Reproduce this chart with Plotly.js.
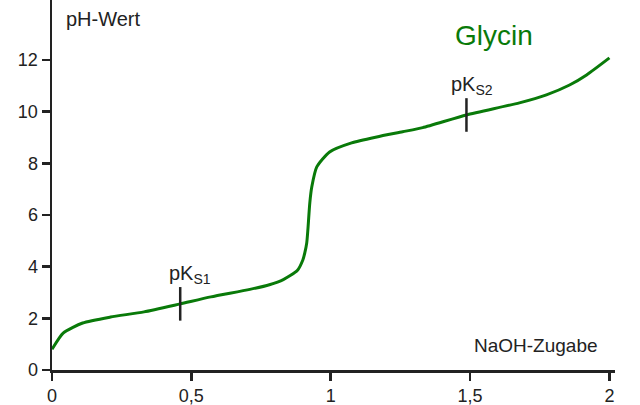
<!DOCTYPE html>
<html>
<head>
<meta charset="utf-8">
<script src="https://cdn.plot.ly/plotly-3.0.1.min.js"></script>
<style>
  html, body { margin: 0; padding: 0; background: #fff; }
  #chart { width: 640px; height: 405px; }
</style>
</head>
<body>
<div id="chart"></div>
<script>
// Titration curve of glycine
const equivalents = [0, 0.04, 0.11, 0.21, 0.33, 0.46, 0.57, 0.71, 0.78, 0.83, 0.88, 0.9, 0.907,
                     0.914, 0.918, 0.925, 0.932, 0.95, 0.996, 1.075, 1.165, 1.258, 1.33, 1.487,
                     1.677, 1.774, 1.857, 1.918, 2.0]
const phValues = [0.8, 1.43, 1.82, 2.05, 2.25, 2.56, 2.83, 3.12, 3.3, 3.5, 3.85, 4.26, 4.53,
                  4.92, 5.42, 6.47, 7.08, 7.86, 8.44, 8.79, 9.02, 9.22, 9.38, 9.87,
                  10.34, 10.65, 11.03, 11.42, 12.08]

const pkLabels = ['pK<sub>S1</sub>', 'pK<sub>S2</sub>']
const pkX = [0.46, 1.487]
const pkY = [2.56, 9.87]

const yTicks = [0, 2, 4, 6, 8, 10, 12]
const xTicks = [0, 0.5, 1, 1.5, 2]

const ink = '#222'
const font = 'Liberation Sans, Arial, sans-serif'

let data = [
    {
        x: equivalents,
        y: phValues,
        type: 'scatter',
        mode: 'lines',
        name: 'Glycin',
        line: { color: '#097a09', width: 3, shape: 'spline', smoothing: 0.6 },
        hoverinfo: 'skip'
    },
    {
        x: pkX,
        y: pkY,
        type: 'scatter',
        mode: 'markers',
        marker: { symbol: 'line-ns', size: 24, line: { color: ink, width: 2.5 } },
        hoverinfo: 'skip'
    }
]

let annotations = pkLabels.map((t, i) => ({
    x: pkX[i], y: pkY[i], xref: 'x', yref: 'y',
    text: t, showarrow: false,
    xanchor: 'left', yanchor: 'bottom',
    xshift: i === 0 ? -13 : -17, yshift: 15,
    font: { family: font, size: 20, color: ink }
}))

annotations.push(
    {
        xref: 'paper', yref: 'paper', x: 0.712, y: 0.905,
        xanchor: 'left', yanchor: 'middle',
        text: 'Glycin', showarrow: false,
        font: { family: font, size: 28, color: '#097a09' }
    },
    {
        xref: 'paper', yref: 'paper', x: 0.021, y: 0.948,
        xanchor: 'left', yanchor: 'middle',
        text: 'pH-Wert', showarrow: false,
        font: { family: font, size: 20, color: ink }
    },
    {
        xref: 'paper', yref: 'paper', x: 0.973, y: 0.065,
        xanchor: 'right', yanchor: 'middle',
        text: 'NaOH-Zugabe', showarrow: false,
        font: { family: font, size: 19, color: ink }
    }
)

let layout = {
    width: 640,
    height: 405,
    margin: { l: 52, r: 25, t: 0, b: 35 },
    paper_bgcolor: '#fff',
    plot_bgcolor: '#fff',
    showlegend: false,
    separators: ',.',
    font: { family: font, size: 18, color: ink },
    xaxis: {
        range: [0, 2.02],
        tickvals: xTicks,
        ticks: 'outside', ticklen: 8, tickwidth: 2.5, tickcolor: ink,
        showline: true, linecolor: ink, linewidth: 2.5,
        showgrid: false, zeroline: false,
        tickfont: { family: font, size: 18, color: ink }
    },
    yaxis: {
        range: [0, 14.32],
        tickvals: yTicks,
        ticks: 'outside', ticklen: 8, tickwidth: 2.5, tickcolor: ink,
        showline: true, linecolor: ink, linewidth: 2.5,
        showgrid: false, zeroline: false,
        tickfont: { family: font, size: 18, color: ink }
    },
    annotations: annotations
}

Plotly.newPlot('chart', data, layout, { displayModeBar: false, staticPlot: true })
</script>
</body>
</html>
